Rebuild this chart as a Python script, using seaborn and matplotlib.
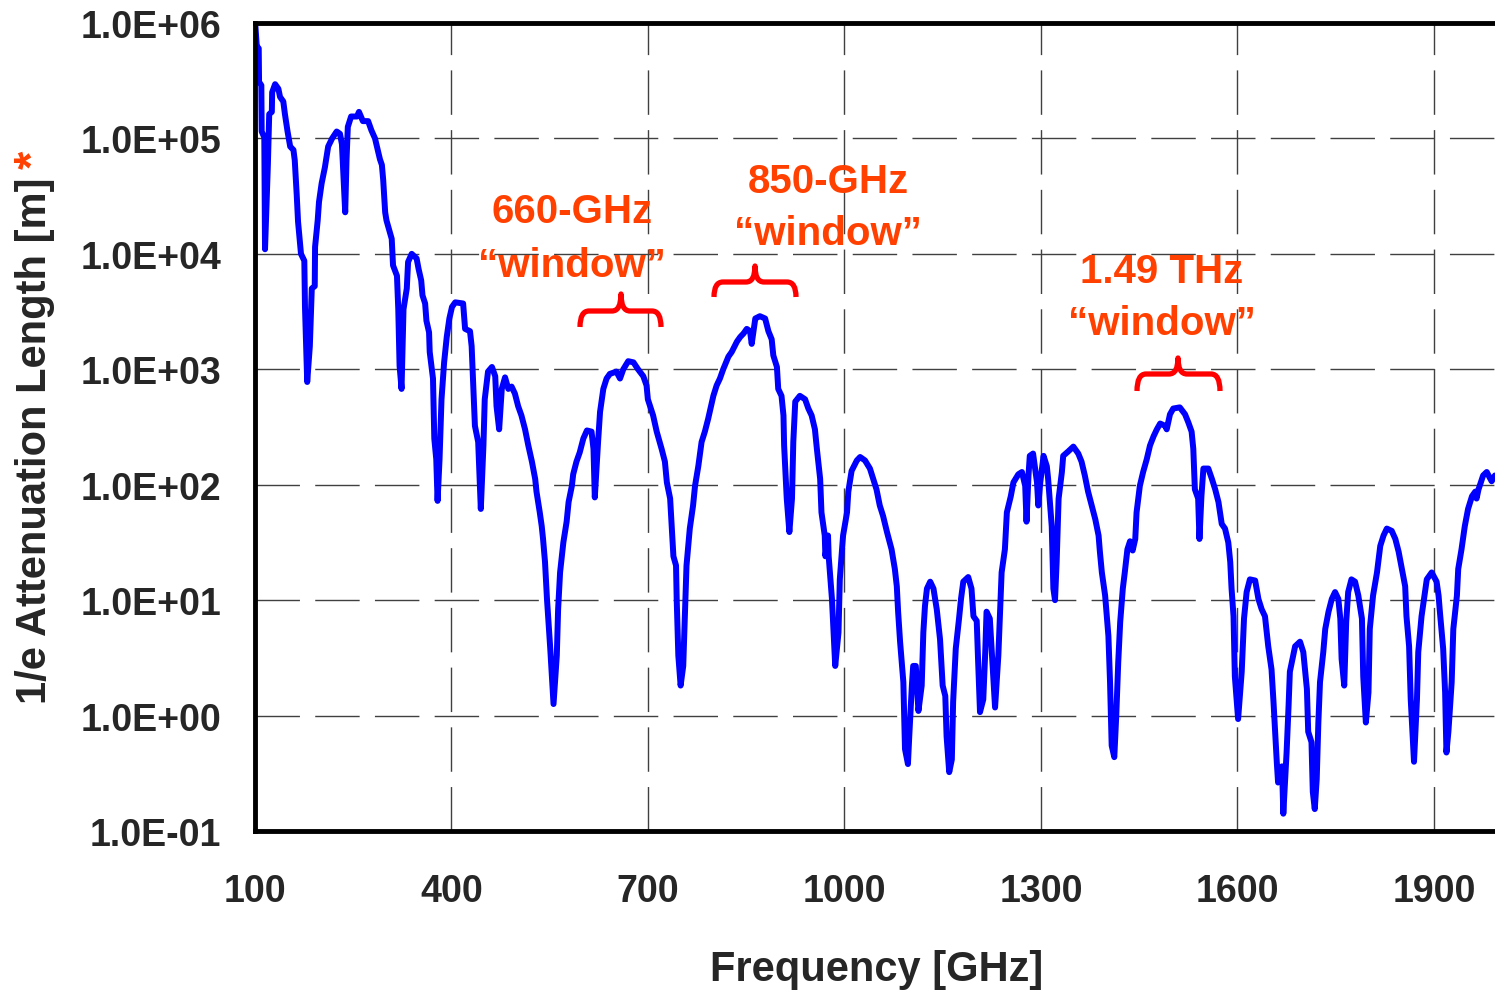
import numpy as np
import pandas as pd
import matplotlib
matplotlib.use("Agg")
import matplotlib.pyplot as plt
import seaborn as sns
from matplotlib.ticker import FixedLocator, FuncFormatter, LogLocator, MultipleLocator, NullFormatter
from matplotlib.path import Path
from matplotlib.patches import PathPatch

# ---------------- data (frequency in GHz, log10 of 1/e attenuation length in m) -------------
freq_a = [100, 103, 106, 106.5, 110, 110.5, 114.5, 115.6, 120, 122, 126, 126.5, 131, 136, 138.5,
          143.5, 146, 150, 154, 159, 161, 164, 166, 170.5, 175.6, 176.6, 180, 184, 187, 191.5,
          192, 196, 198, 202, 207, 212, 218, 225, 230, 233, 238, 240, 242, 247, 256, 259, 265,
          273, 278, 283.5, 286, 291, 294, 296, 299, 301, 304, 309, 311, 317, 319, 321, 324, 327,
          332, 334, 339.5, 347, 350, 354, 356, 360, 362, 366, 367, 372, 374, 377, 379, 382, 385,
          389, 393, 397]
loglen_a = [6.05, 5.80, 5.78, 5.49, 5.46, 5.06, 5.01, 4.04, 4.78, 5.21, 5.23, 5.40, 5.47, 5.43, 5.36,
            5.32, 5.21, 5.06, 4.93, 4.90, 4.81, 4.51, 4.28, 4.00, 3.94, 3.54, 2.89, 3.20, 3.70, 3.72,
            4.06, 4.29, 4.45, 4.61, 4.75, 4.93, 5.00, 5.06, 5.04, 4.95, 4.36, 4.81, 5.10, 5.19, 5.19, 5.23, 5.15,
            5.15, 5.07, 5.00, 4.94, 4.82, 4.77, 4.64, 4.36, 4.29, 4.23, 4.13, 3.90, 3.81, 3.52, 3.03, 2.83, 3.52,
            3.70, 3.93, 4.00, 3.96, 3.87, 3.77, 3.64, 3.57, 3.42, 3.32, 3.15, 2.92, 2.40, 2.22, 1.86, 2.22, 2.74,
            3.06, 3.28, 3.44]

freq_b = [401, 406, 418, 421, 428.5, 431, 433.5, 436, 441, 445, 449, 451, 456, 462, 467, 469, 473, 477,
          482, 487, 492, 497, 502, 507, 512.5, 517.5, 523, 528, 530, 535, 538, 540, 543, 546, 551, 556,
          561, 563, 566, 571, 576, 579, 584, 586, 591, 596, 601.5, 607, 614, 617, 619, 624, 627, 632, 637,
          642, 652, 657.5, 662.5, 670, 678, 685, 693, 698, 700, 708, 713.5, 721, 726, 729, 734, 736, 739,
          743, 744, 746.5, 750, 754, 757, 759, 764, 769, 772, 777, 782, 787, 792, 800, 805, 810, 815, 823,
          828, 836, 841, 846, 851, 856, 858.5, 864, 871, 879, 884, 889, 891.5, 897, 899, 904, 907, 908,
          912, 916, 920, 922, 925, 932, 940, 945, 950, 955, 958, 963, 965, 970, 971, 975, 976, 981, 986,
          991, 993, 998]
loglen_b = [3.54, 3.58, 3.57, 3.35, 3.33, 3.20, 2.86, 2.51, 2.37, 1.79, 2.34, 2.74, 2.98, 3.02, 2.94, 2.68, 2.48, 2.83,
            2.93, 2.83, 2.85, 2.79, 2.68, 2.60, 2.48, 2.34, 2.20, 2.05, 1.94, 1.76, 1.64, 1.53, 1.33, 1.01, 0.58, 0.10,
            0.52, 0.92, 1.24, 1.50, 1.68, 1.85, 1.99, 2.09, 2.20, 2.28, 2.40, 2.47, 2.46, 2.31, 1.89, 2.37, 2.63, 2.83, 2.92,
            2.96, 2.98, 2.92, 3.00, 3.07, 3.06, 3.00, 2.94, 2.86, 2.74, 2.60, 2.46, 2.31, 2.20, 2.02, 1.88, 1.68, 1.38,
            1.30, 1.01, 0.52, 0.26, 0.43, 0.95, 1.30, 1.62, 1.82, 1.99, 2.16, 2.37, 2.46, 2.57, 2.77, 2.86, 2.92, 3.00, 3.11,
            3.15, 3.24, 3.28, 3.31, 3.35, 3.33, 3.22, 3.44, 3.46, 3.44, 3.33, 3.26, 3.12, 3.02, 2.83, 2.77, 2.60, 2.34,
            1.88, 1.59, 1.88, 2.37, 2.72, 2.77, 2.74, 2.66, 2.60, 2.48, 2.31, 2.05, 1.76, 1.56, 1.38, 1.56, 1.38, 1.01, 0.43,
            0.72, 1.18, 1.56]

freq_c = [1004, 1006, 1011, 1019, 1024, 1031.5, 1039, 1044, 1049, 1054, 1059, 1065, 1072, 1077, 1080, 1082,
          1085, 1090, 1092.5, 1097, 1099, 1103, 1105, 1109, 1113, 1118, 1120.5, 1123, 1126, 1131, 1136, 1141,
          1146, 1150, 1154, 1156, 1160, 1164, 1166, 1170, 1175, 1178, 1181.5, 1189, 1194, 1197, 1202, 1204,
          1207, 1212, 1215, 1217, 1222, 1225, 1230, 1235, 1238, 1240, 1245, 1248, 1254, 1258, 1265.5, 1271,
          1276, 1278, 1281, 1283, 1288, 1294, 1296, 1299, 1304, 1309, 1311, 1316.5, 1319, 1321.5, 1324, 1327,
          1332, 1334, 1342, 1349.5, 1357, 1362, 1367, 1372, 1377.5, 1383, 1388, 1390, 1393, 1398, 1403, 1405.5,
          1408, 1412, 1415, 1418, 1421, 1425, 1428, 1432, 1436, 1440, 1444, 1446, 1451, 1456, 1461.5, 1466.5,
          1472, 1477, 1482, 1489.5, 1492, 1497, 1502, 1512, 1520, 1525, 1530, 1532.6, 1535, 1540, 1542, 1545,
          1548, 1555.5, 1561, 1566, 1571, 1576, 1581, 1586, 1589, 1591, 1594, 1596]
loglen_c = [1.76, 1.94, 2.12, 2.21, 2.24, 2.21, 2.14, 2.05, 1.96, 1.82, 1.73, 1.59, 1.44, 1.27, 1.12, 0.90,
            0.64, 0.29, -0.29, -0.42, -0.18, 0.26, 0.43, 0.43, 0.04, 0.26, 0.72, 0.95, 1.10, 1.16, 1.10, 0.92,
            0.66, 0.26, 0.17, -0.18, -0.49, -0.38, 0.12, 0.58, 0.84, 1.01, 1.16, 1.20, 1.10, 0.86, 0.82, 0.49,
            0.03, 0.14, 0.55, 0.90, 0.84, 0.55, 0.07, 0.52, 0.95, 1.24, 1.44, 1.76, 1.90, 2.02, 2.09, 2.11,
            1.99, 1.68, 2.08, 2.25, 2.27, 2.02, 1.82, 2.02, 2.25, 2.16, 2.05, 1.64, 1.10, 1.00, 1.33, 1.88,
            2.11, 2.25, 2.29, 2.33, 2.27, 2.20, 2.08, 1.94, 1.82, 1.70, 1.56, 1.42, 1.24, 1.04, 0.69, 0.29,
            -0.26, -0.36, 0.00, 0.46, 0.81, 1.10, 1.24, 1.44, 1.51, 1.43, 1.53, 1.76, 1.99, 2.11, 2.22, 2.34,
            2.42, 2.48, 2.53, 2.51, 2.48, 2.61, 2.66, 2.67, 2.61, 2.54, 2.46, 2.31, 1.96, 1.88, 1.53, 1.90,
            2.14, 2.14, 2.05, 1.96, 1.85, 1.66, 1.62, 1.50, 1.33, 1.10, 0.86, 0.34]

freq_d = [1601, 1606.5, 1610, 1614, 1619, 1627, 1632, 1637, 1642, 1647, 1652, 1655, 1660, 1662, 1668, 1670,
          1675, 1678, 1680, 1685, 1688, 1695.5, 1700.5, 1706, 1708, 1713, 1715, 1718, 1721, 1723.5, 1726, 1731,
          1734, 1739, 1744, 1749, 1754, 1757, 1759, 1763, 1766, 1769, 1774, 1779.5, 1784.5, 1790, 1792, 1796,
          1800, 1802, 1807, 1813, 1818, 1823, 1828, 1835.5, 1841, 1846, 1851, 1856, 1858, 1862, 1864.5, 1869.5,
          1874, 1876, 1881, 1884, 1889, 1896.5, 1904, 1907, 1909, 1914, 1917, 1919, 1922, 1927, 1929.5, 1935,
          1937, 1942, 1947, 1952, 1958, 1963, 1965, 1968, 1975, 1980.5, 1988, 1993]
loglen_d = [-0.03, 0.38, 0.84, 1.07, 1.18, 1.17, 1.01, 0.92, 0.86, 0.60, 0.40, 0.12, -0.40, -0.58, -0.44, -0.85,
            -0.32, 0.08, 0.38, 0.52, 0.60, 0.64, 0.55, 0.23, -0.14, -0.23, -0.66, -0.81, -0.55, -0.06, 0.29, 0.55,
            0.75, 0.90, 1.01, 1.07, 1.01, 0.84, 0.49, 0.26, 0.81, 1.07, 1.18, 1.16, 1.04, 0.84, 0.34, -0.06,
            0.20, 0.75, 1.04, 1.24, 1.47, 1.56, 1.62, 1.60, 1.53, 1.42, 1.27, 1.12, 0.86, 0.60, 0.14, -0.40,
            0.14, 0.55, 0.86, 0.98, 1.18, 1.24, 1.16, 1.04, 0.90, 0.58, 0.20, -0.32, -0.14, 0.29, 0.75, 1.04,
            1.27, 1.44, 1.64, 1.79, 1.90, 1.94, 1.88, 1.96, 2.08, 2.11, 2.03, 2.08]

x_ticks = [100, 400, 700, 1000, 1300, 1600, 1900]
y_ticks = [1e-1, 1e0, 1e1, 1e2, 1e3, 1e4, 1e5, 1e6]

windows = [("660-GHz", "\u201cwindow\u201d"), ("850-GHz", "\u201cwindow\u201d"), ("1.49 THz", "\u201cwindow\u201d")]

# ---------------- style ----------------
sns.set_style("white")
plt.rcParams["font.family"] = ["Liberation Sans", "DejaVu Sans"]
plt.rcParams["font.weight"] = "bold"
plt.rcParams["lines.scale_dashes"] = False

W, H = 1495, 995
fig = plt.figure(figsize=(W / 100, H / 100), dpi=100)
ax = fig.add_axes([254.8 / W, 1 - 832 / H, (1499.5 - 254.8) / W, 808 / H])

freq = np.concatenate([freq_a, freq_b, freq_c, freq_d])
length = 10 ** np.concatenate([loglen_a, loglen_b, loglen_c, loglen_d])
df = pd.DataFrame({"freq": freq, "length": length})

sns.lineplot(data=df, x="freq", y="length", ax=ax, color="#0000FF", linewidth=4.3,
             estimator=None, sort=False, legend=False)
for ln in ax.get_lines():
    ln.set_solid_joinstyle("round")
    ln.set_solid_capstyle("round")

ax.set_yscale("log")
ax.set_xlim(100, 2000)
ax.set_ylim(0.1, 1e6)
ax.set_xlabel("")
ax.set_ylabel("")

ax.xaxis.set_major_locator(FixedLocator(x_ticks))
ax.xaxis.set_minor_locator(MultipleLocator(50))
ax.yaxis.set_major_locator(FixedLocator(y_ticks))
ax.yaxis.set_minor_locator(LogLocator(base=10, subs=np.arange(2, 10) * 1.0, numticks=100))
ax.yaxis.set_minor_formatter(NullFormatter())
ax.yaxis.set_major_formatter(FuncFormatter(lambda v, p: f"{v:.1E}"))
ax.xaxis.set_major_formatter(FuncFormatter(lambda v, p: f"{v:.0f}"))

ax.tick_params(which="major", direction="in", length=12, width=1.6, color="black",
               top=False, right=False, labelsize=27)
ax.tick_params(which="minor", direction="in", length=7, width=1.6, color="black",
               top=False, right=False)
ax.tick_params(axis="x", which="major", pad=30)
ax.tick_params(axis="y", which="major", pad=24)

ax.grid(True, which="major", color="#404040", linewidth=1.0, linestyle=(0, (32, 11)))
ax.grid(False, which="minor")
ax.set_axisbelow(True)

for s in ["left", "bottom", "top"]:
    ax.spines[s].set_linewidth(3.5)
    ax.spines[s].set_color("black")
ax.spines["right"].set_visible(False)

def fx(px):
    return px / W

def fy(py):
    return 1 - py / H

# axis titles
fig.text(fx(877), fy(970), "Frequency [GHz]", ha="center", va="center", fontsize=30)
fig.text(fx(35), fy(441), "1/e Attenuation Length [m]", rotation=90, ha="center", va="center", fontsize=30)
fig.text(fx(35), fy(160), "*", rotation=90, ha="center", va="center", fontsize=34, color="#FF4000")

# window annotations
ann_color = "#FF4000"
ann_pos = [(572, 223, 277), (828, 193, 245), (1162, 283, 335)]
for (l1, l2), (cx, b1, b2) in zip(windows, ann_pos):
    fig.text(fx(cx), fy(b1), l1, ha="center", va="baseline", fontsize=29, color=ann_color)
    fig.text(fx(cx), fy(b2), l2, ha="center", va="baseline", fontsize=29, color=ann_color)

def brace(xl, xr, cx, yb, ybar, yt, r=9):
    pts = [(xl, yb), (xl, ybar), (xl + r, ybar), (cx - r, ybar), (cx, ybar), (cx, yt),
           (cx, ybar), (cx + r, ybar), (xr - r, ybar), (xr, ybar), (xr, yb)]
    codes = [Path.MOVETO, Path.CURVE3, Path.CURVE3, Path.LINETO, Path.CURVE3, Path.CURVE3,
             Path.CURVE3, Path.CURVE3, Path.LINETO, Path.CURVE3, Path.CURVE3]
    verts = [(fx(x), fy(y)) for x, y in pts]
    patch = PathPatch(Path(verts, codes), transform=fig.transFigure, fill=False,
                      edgecolor="#FF0000", linewidth=3.8, capstyle="butt", joinstyle="round")
    fig.add_artist(patch)

brace(580, 661, 621, 328, 312, 295)
brace(714, 796, 755, 298, 283, 267)
brace(1137, 1220, 1178, 392, 375, 359)

fig.savefig("out.png", dpi=100)
